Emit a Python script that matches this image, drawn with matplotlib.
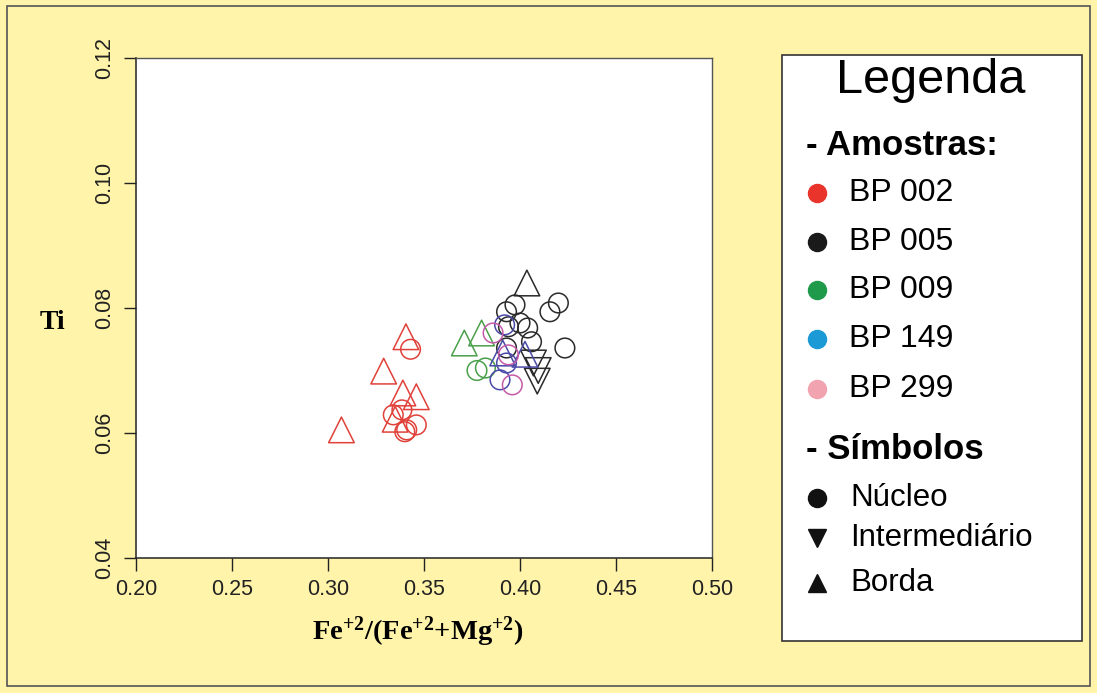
import matplotlib.pyplot as plt
from matplotlib.patches import Rectangle

plt.rcParams["font.family"] = ["Liberation Sans", "DejaVu Sans"]
plt.rcParams["mathtext.fontset"] = "custom"
plt.rcParams["mathtext.rm"] = "Liberation Serif:bold"
plt.rcParams["mathtext.bf"] = "Liberation Serif:bold"

# BP 002
bp002_nucleo_x = [0.343, 0.3385, 0.334, 0.346, 0.341, 0.3400]
bp002_nucleo_y = [0.0734, 0.0637, 0.0629, 0.0613, 0.0605, 0.0602]
bp002_borda_x = [0.3406, 0.329, 0.339, 0.346, 0.335, 0.307]
bp002_borda_y = [0.0754, 0.0699, 0.0664, 0.0658, 0.0622, 0.0605]

# BP 005
bp005_nucleo_x = [0.3974, 0.393, 0.4156, 0.420, 0.400, 0.394, 0.404, 0.406, 0.393, 0.4234]
bp005_nucleo_y = [0.0805, 0.0794, 0.0794, 0.0808, 0.0776, 0.0770, 0.0768, 0.0746, 0.0736, 0.0736]
bp005_interm_x = [0.407, 0.4095, 0.409]
bp005_interm_y = [0.0712, 0.0700, 0.0683]
bp005_borda_x = [0.4036]
bp005_borda_y = [0.0840]

# BP 009
bp009_nucleo_x = [0.3776, 0.382]
bp009_nucleo_y = [0.0700, 0.0704]
bp009_borda_x = [0.371, 0.380]
bp009_borda_y = [0.0744, 0.0760]

# BP 149
bp149_nucleo_x = [0.392, 0.393, 0.3896]
bp149_nucleo_y = [0.0773, 0.0712, 0.0685]
bp149_borda_x = [0.391, 0.4026]
bp149_borda_y = [0.0728, 0.0726]

# BP 299
bp299_nucleo_x = [0.386, 0.394, 0.396]
bp299_nucleo_y = [0.0760, 0.0725, 0.0677]

x_ticks = [0.20, 0.25, 0.30, 0.35, 0.40, 0.45, 0.50]
y_ticks = [0.04, 0.06, 0.08, 0.10, 0.12]

amostras = ["BP 002", "BP 005", "BP 009", "BP 149", "BP 299"]
amostra_colors = ["#e8342b", "#1a1a1a", "#1f9a4a", "#1b9ad6", "#f2a3b0"]
simbolos = ["Núcleo", "Intermediário", "Borda"]
simbolo_markers = ["o", "v", "^"]

c_red, c_black, c_green, c_blue, c_pink = "#e0413a", "#2a2a2a", "#4aa04a", "#4a4aa8", "#c45aa8"

fig = plt.figure(figsize=(10.97, 6.93), dpi=100, facecolor="#fff4aa")
fig.patches.append(Rectangle((0.0064, 0.0101), 0.9873, 0.9812, transform=fig.transFigure,
                             fill=False, edgecolor="#555555", linewidth=1.2))

ax = fig.add_axes([0.124, 0.1948, 0.525, 0.7215])
ax.set_facecolor("white")

circ = dict(marker="o", s=200, facecolors="none", linewidths=1.1)
tri = dict(marker="^", s=340, facecolors="none", linewidths=1.1)
itri = dict(marker="v", s=340, facecolors="none", linewidths=1.1)

ax.scatter(bp002_borda_x, bp002_borda_y, edgecolors=c_red, **tri)
ax.scatter(bp002_nucleo_x, bp002_nucleo_y, edgecolors=c_red, **circ)
ax.scatter(bp009_borda_x, bp009_borda_y, edgecolors=c_green, **tri)
ax.scatter(bp009_nucleo_x, bp009_nucleo_y, edgecolors=c_green, **circ)
ax.scatter(bp005_borda_x, bp005_borda_y, edgecolors=c_black, **tri)
ax.scatter(bp005_nucleo_x, bp005_nucleo_y, edgecolors=c_black, **circ)
ax.scatter(bp005_interm_x, bp005_interm_y, edgecolors=c_black, **itri)
ax.scatter(bp149_borda_x, bp149_borda_y, edgecolors=c_blue, **tri)
ax.scatter(bp149_nucleo_x, bp149_nucleo_y, edgecolors=c_blue, **circ)
ax.scatter(bp299_nucleo_x, bp299_nucleo_y, edgecolors=c_pink, **circ)

ax.set_xlim(0.20, 0.50)
ax.set_ylim(0.04, 0.12)
ax.set_xticks(x_ticks)
ax.set_xticklabels([f"{v:.2f}" for v in x_ticks])
ax.set_yticks(y_ticks)
ax.set_yticklabels([f"{v:.2f}" for v in y_ticks], rotation=90, va="center")
ax.tick_params(direction="out", length=9, width=1, labelsize=15.5, pad=6, colors="#222222")
for side in ["left", "bottom"]:
    ax.spines[side].set_color("#222222")
    ax.spines[side].set_linewidth(1.1)
for side in ["top", "right"]:
    ax.spines[side].set_color("#555555")
    ax.spines[side].set_linewidth(1.0)

fig.text(0.048, 0.535, "Ti", fontsize=20, fontweight="bold", family="Liberation Serif",
         ha="center", va="center")
fig.text(0.381, 0.088, r"$\mathrm{Fe^{+2}/(Fe^{+2}{+}Mg^{+2})}$", fontsize=20.5,
         ha="center", va="center")

# legend box
fig.patches.append(Rectangle((0.7129, 0.075), 0.2735, 0.8456, transform=fig.transFigure,
                             facecolor="white", edgecolor="#333333", linewidth=1.2))
fig.text(0.848, 0.884, "Legenda", fontsize=35, ha="center", va="center")
fig.text(0.735, 0.790, "- Amostras:", fontsize=25, fontweight="bold", va="center")
ys = [0.721, 0.651, 0.581, 0.511, 0.439]
for name, col, yy in zip(amostras, amostra_colors, ys):
    fig.lines.append(plt.Line2D([0.745], [yy], marker="o", markersize=13, color=col,
                                transform=fig.transFigure))
    fig.text(0.774, yy, name, fontsize=23, va="center")
fig.text(0.735, 0.351, "- Símbolos", fontsize=25, fontweight="bold", va="center")
ys2 = [0.281, 0.224, 0.159]
for name, mk, yy in zip(simbolos, simbolo_markers, ys2):
    fig.lines.append(plt.Line2D([0.745], [yy], marker=mk, markersize=13, color="#111111",
                                transform=fig.transFigure))
    fig.text(0.775, yy, name, fontsize=22.5, va="center")

fig.savefig("out.png", dpi=100, facecolor=fig.get_facecolor())
